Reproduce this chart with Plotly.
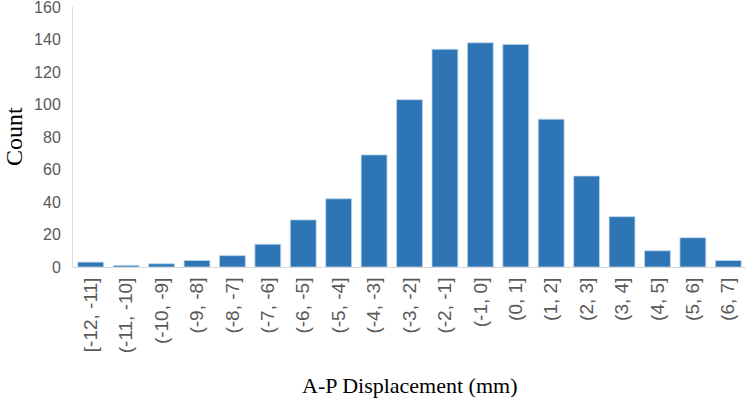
import plotly.graph_objects as go

categories = ["[-12, -11]", "(-11, -10]", "(-10, -9]", "(-9, -8]", "(-8, -7]", "(-7, -6]",
              "(-6, -5]", "(-5, -4]", "(-4, -3]", "(-3, -2]", "(-2, -1]", "(-1, 0]",
              "(0, 1]", "(1, 2]", "(2, 3]", "(3, 4]", "(4, 5]", "(5, 6]", "(6, 7]"]
counts = [3, 1, 2, 4, 7, 14, 29, 42, 69, 103, 134, 138, 137, 91, 56, 31, 10, 18, 4]
y_ticks = [0, 20, 40, 60, 80, 100, 120, 140, 160]

fig = go.Figure(go.Bar(
    x=categories, y=counts,
    marker=dict(color="#2E75B6", line=dict(color="#BDD7EE", width=0.8)),
))

fig.update_layout(
    width=749, height=405,
    margin=dict(l=73, r=3, t=7, b=138),
    paper_bgcolor="white", plot_bgcolor="white",
    bargap=0.27,
    showlegend=False,
    font=dict(family="Liberation Sans, Arial, sans-serif", color="#595959"),
    annotations=[
        dict(text="A-P Displacement (mm)", xref="paper", yref="paper",
             x=0.5, y=0, yshift=-118, xanchor="center", yanchor="middle", showarrow=False,
             font=dict(family="Liberation Serif, Times New Roman, serif", size=22, color="black")),
        dict(text="Count", xref="paper", yref="paper", textangle=-90,
             x=0, y=0.5, xshift=-59, xanchor="center", yanchor="middle", showarrow=False,
             font=dict(family="Liberation Serif, Times New Roman, serif", size=24, color="black")),
    ],
)
fig.update_xaxes(
    type="category",
    tickangle=-90,
    tickfont=dict(size=19, color="#595959"),
    showline=True, linecolor="#D9D9D9", linewidth=1,
    ticks="", showgrid=False, automargin=False,
    ticklabelstandoff=2, ticklabeloverflow="allow",
)
fig.update_yaxes(
    range=[0, 160],
    tickvals=y_ticks,
    tickfont=dict(size=16, color="#595959"),
    showline=True, linecolor="#D9D9D9", linewidth=1,
    showgrid=False, zeroline=False, ticks="", automargin=False,
    ticklabelstandoff=8, ticklabeloverflow="allow",
)

# remove the browser's default 8px body margin so the figure fills the window
fig.write_html("out.html", config={"displayModeBar": False},
               post_script="document.body.style.margin='0';")
